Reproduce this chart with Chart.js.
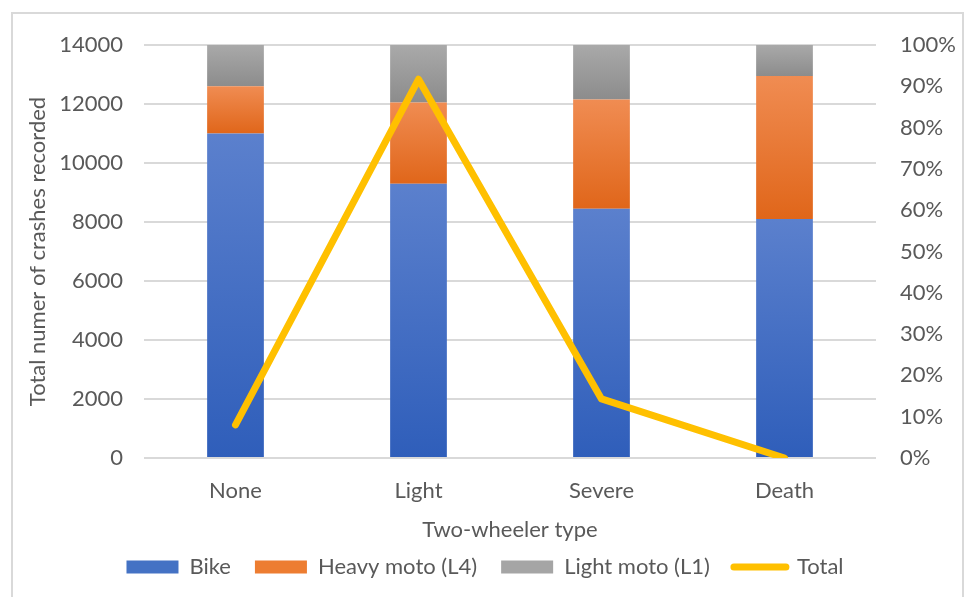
<!DOCTYPE html>
<html>
<head>
<meta charset="utf-8">
<script src="https://cdn.jsdelivr.net/npm/chart.js@4.4.0/dist/chart.umd.min.js"></script>
<style>
  html, body { margin: 0; padding: 0; background: #fff; }
  #frame {
    position: absolute; left: 11px; top: 12px; width: 949px; height: 600px;
    border: 2px solid #d9d9d9; border-bottom: none;
  }
  #chart { position: absolute; left: 0; top: 0; }
</style>
</head>
<body>
<div id="frame"></div>
<canvas id="chart" width="970" height="597"></canvas>
<script>
const categories = ["None", "Light", "Severe", "Death"];
const bike = [11000, 9300, 8450, 8100];
const heavyMoto = [1600, 2750, 3700, 4850];
const lightMoto = [1400, 1950, 1850, 1050];
const totalShare = [0.08, 0.917, 0.143, 0.0];

const leftTicks = [0, 2000, 4000, 6000, 8000, 10000, 12000, 14000];
const rightTicks = [0, 0.1, 0.2, 0.3, 0.4, 0.5, 0.6, 0.7, 0.8, 0.9, 1];

const stacks = [bike, heavyMoto, lightMoto];
const shades = [
  ["#5b80cd", "#2f5eba"],
  ["#f08c52", "#e0661a"],
  ["#a9a9a9", "#8c8c8c"]
];
const solid = ["#4472c4", "#ed7d31", "#a5a5a5"];

const textColor = "#595959";
const fontFamily = "Lato, 'Open Sans', sans-serif";

// gradient for each stacked segment: light on top, dark at bottom
function segmentFill(seriesIdx) {
  return ctx => {
    const chart = ctx.chart;
    const y = chart.scales && chart.scales.y;
    if (!y || !chart.chartArea || ctx.dataIndex === undefined) return solid[seriesIdx];
    let base = 0;
    for (let k = 0; k < seriesIdx; k++) base += stacks[k][ctx.dataIndex];
    const top = base + stacks[seriesIdx][ctx.dataIndex];
    const yTop = y.getPixelForValue(top);
    const yBot = y.getPixelForValue(base);
    if (!isFinite(yTop) || !isFinite(yBot) || yTop === yBot) return solid[seriesIdx];
    const g = chart.ctx.createLinearGradient(0, yTop, 0, yBot);
    g.addColorStop(0, shades[seriesIdx][0]);
    g.addColorStop(1, shades[seriesIdx][1]);
    return g;
  };
}

const barCommon = {
  type: "bar",
  yAxisID: "y",
  stack: "crashes",
  barPercentage: 0.31,
  categoryPercentage: 1,
  borderWidth: 0,
  order: 1
};

new Chart(document.getElementById("chart"), {
  data: {
    labels: categories,
    datasets: [
      { ...barCommon, label: "Bike", data: bike, backgroundColor: segmentFill(0) },
      { ...barCommon, label: "Heavy moto (L4)", data: heavyMoto, backgroundColor: segmentFill(1) },
      { ...barCommon, label: "Light moto (L1)", data: lightMoto, backgroundColor: segmentFill(2) },
      {
        type: "line",
        label: "Total",
        data: totalShare,
        yAxisID: "y1",
        borderColor: "#ffc000",
        backgroundColor: "#ffc000",
        borderWidth: 7,
        borderCapStyle: "round",
        borderJoinStyle: "round",
        pointRadius: 0,
        pointStyle: "line",
        tension: 0,
        fill: false,
        order: 0
      }
    ]
  },
  options: {
    responsive: false,
    animation: false,
    devicePixelRatio: 1,
    layout: { padding: { top: 45, bottom: 9, left: 0, right: 0 } },
    plugins: {
      tooltip: { enabled: false },
      legend: {
        position: "bottom",
        labels: {
          color: textColor,
          font: { family: fontFamily, size: 22 },
          boxWidth: 52,
          boxHeight: 13,
          padding: 24,
          usePointStyle: true,
          pointStyleWidth: 52,
          sort: (a, b) => a.datasetIndex - b.datasetIndex,
          generateLabels: chart => chart.data.datasets.map((ds, i) => {
            const isLine = ds.type === "line";
            return {
              text: ds.label,
              datasetIndex: i,
              fillStyle: isLine ? "#ffc000" : solid[i],
              strokeStyle: isLine ? "#ffc000" : solid[i],
              lineWidth: isLine ? 7 : 0,
              lineCap: "round",
              pointStyle: isLine ? "line" : "rect",
              fontColor: textColor,
              hidden: false
            };
          })
        }
      }
    },
    scales: {
      x: {
        grid: { display: false, drawTicks: false },
        border: { display: false },
        ticks: { color: textColor, font: { family: fontFamily, size: 22 }, padding: 20 },
        title: {
          display: true,
          text: "Two-wheeler type",
          color: textColor,
          font: { family: fontFamily, size: 22 },
          padding: { top: 0, bottom: -11 }
        },
        afterFit: s => { s.height = 74; }
      },
      y: {
        position: "left",
        min: 0,
        max: 14000,
        afterBuildTicks: s => { s.ticks = leftTicks.map(v => ({ value: v })); },
        grid: { color: "#d9d9d9", lineWidth: 2, drawTicks: false },
        border: { display: false },
        ticks: {
          color: textColor,
          font: { family: fontFamily, size: 22 },
          padding: 21,
          callback: v => String(v)
        },
        title: {
          display: true,
          text: "Total numer of crashes recorded",
          color: textColor,
          font: { family: fontFamily, size: 22 },
          padding: { top: 25, bottom: 0 }
        },
        afterFit: s => { s.width = 144; }
      },
      y1: {
        position: "right",
        min: 0,
        max: 1,
        afterBuildTicks: s => { s.ticks = rightTicks.map(v => ({ value: v })); },
        grid: { display: false, drawTicks: false },
        border: { display: false },
        ticks: {
          color: textColor,
          font: { family: fontFamily, size: 22 },
          padding: 24,
          callback: v => Math.round(v * 100) + "%"
        },
        afterFit: s => { s.width = 94; }
      }
    }
  }
});
</script>
</body>
</html>
